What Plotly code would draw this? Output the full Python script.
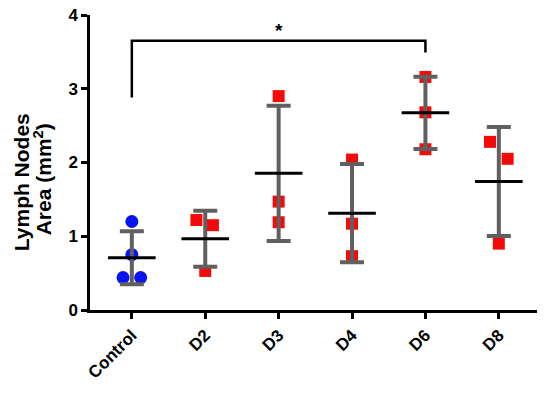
import numpy as np
import plotly.graph_objects as go

categories = ["Control", "D2", "D3", "D4", "D6", "D8"]
control_vals = [1.20, 0.75, 0.44, 0.44]
d2_vals = [1.22, 1.15, 0.53]
d3_vals = [2.90, 1.47, 1.19]
d4_vals = [2.04, 1.17, 0.73]
d6_vals = [3.16, 2.68, 2.18]
d8_vals = [2.28, 2.05, 0.90]
group_values = [control_vals, d2_vals, d3_vals, d4_vals, d6_vals, d8_vals]
y_ticks = [0, 1, 2, 3, 4]
y_title_lines = ["Lymph Nodes", "Area (mm<sup>2</sup>)"]

# horizontal jitter of the points inside each group (layout only)
jitter = [[0, 0, -0.12, 0.12], [-0.12, 0.105, 0], [0, 0, 0], [0, 0, 0], [0, 0, 0], [-0.12, 0.12, 0]]

# significance bracket (Control vs D6)
bracket_left_bottom = 2.88
bracket_top = 3.65
bracket_right_bottom = 3.49
bracket_star = "*"

FONT = "Liberation Sans, Arial, sans-serif"
fig = go.Figure()

# individual points
for i, (vals, jit) in enumerate(zip(group_values, jitter)):
    is_ctrl = i == 0
    fig.add_trace(go.Scatter(
        x=[i + j for j in jit], y=vals, mode="markers",
        marker=dict(symbol="circle" if is_ctrl else "square",
                    size=13 if is_ctrl else 12,
                    color="#0a14f0" if is_ctrl else "#f50a0a",
                    line=dict(width=0)),
        showlegend=False, hoverinfo="y"))

means = [float(np.mean(v)) for v in group_values]
sds = [float(np.std(v, ddof=1)) for v in group_values]
xs = list(range(len(categories)))

# SD error bars
fig.add_trace(go.Scatter(
    x=xs, y=means, mode="markers", marker=dict(size=1, opacity=0),
    error_y=dict(type="data", array=sds, visible=True, color="#606060",
                 thickness=4, width=12),
    showlegend=False, hoverinfo="skip"))

# mean lines
fig.add_trace(go.Scatter(
    x=xs, y=means, mode="markers",
    marker=dict(symbol="line-ew", size=34, color="black",
                line=dict(width=3, color="black")),
    showlegend=False, hoverinfo="y"))

# bracket
fig.add_trace(go.Scatter(
    x=[0, 0, 4, 4], y=[bracket_left_bottom, bracket_top, bracket_top, bracket_right_bottom],
    mode="lines", line=dict(color="black", width=2.5), showlegend=False, hoverinfo="skip"))
fig.add_annotation(x=2, y=bracket_top, yshift=-2, text=bracket_star, showarrow=False,
                   yanchor="bottom", font=dict(family=FONT, size=19, weight="bold", color="black"))

# y-axis title, two lines
for txt, xsh, yp in zip(y_title_lines, [-69, -47], [0.433, 0.443]):
    fig.add_annotation(x=0, y=yp, xref="paper", yref="paper", xshift=xsh,
                       text=txt, textangle=-90, showarrow=False,
                       xanchor="center", yanchor="middle",
                       font=dict(family=FONT, size=21, weight="bold", color="black"))

fig.update_layout(
    width=550, height=398,
    margin=dict(l=90, r=13, t=15, b=88, autoexpand=False),
    paper_bgcolor="white", plot_bgcolor="white",
    font=dict(family=FONT, color="black"),
)
fig.update_xaxes(
    range=[-0.57, 5.52], tickmode="array", tickvals=xs, ticktext=categories,
    tickangle=-45, tickfont=dict(family=FONT, size=17, weight="bold", color="black"),
    showline=True, linecolor="black", linewidth=2.5, automargin=False,
    ticks="outside", ticklen=6, tickwidth=2.5, tickcolor="black",
    showgrid=False, zeroline=False)
fig.update_yaxes(
    range=[0, 4], tickmode="array", tickvals=y_ticks, automargin=False,
    tickfont=dict(family=FONT, size=17, weight="bold", color="black"),
    showline=True, linecolor="black", linewidth=2.5,
    ticks="outside", ticklen=6, tickwidth=2.5, tickcolor="black",
    showgrid=False, zeroline=False)

fig.write_html("out.html", config={"displayModeBar": False},
               post_script="document.body.style.margin='0';document.body.style.padding='0';")
